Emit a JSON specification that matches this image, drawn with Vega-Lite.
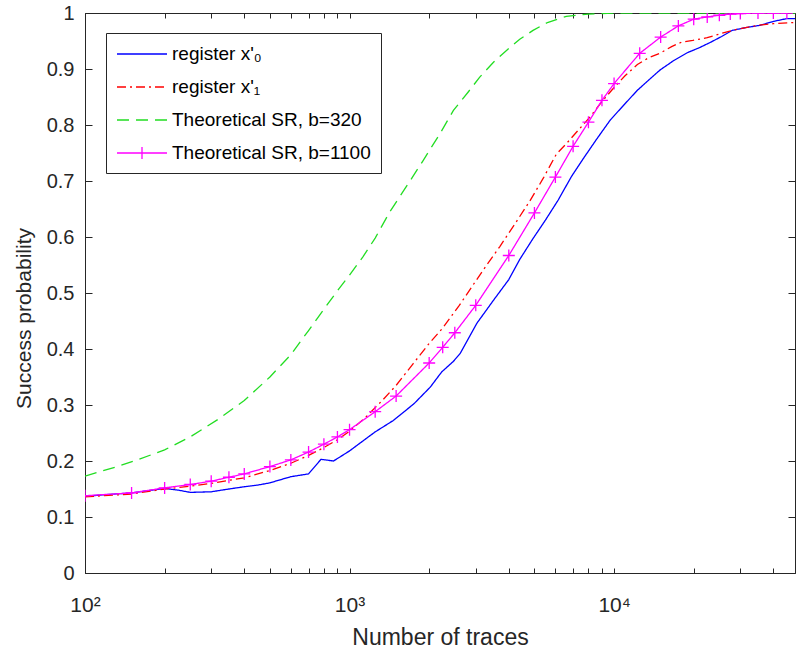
{
  "$schema": "https://vega.github.io/schema/vega-lite/v6.json",
  "width": 710,
  "height": 560,
  "autosize": {"type": "none"},
  "padding": {"left": 85, "top": 13, "right": 1, "bottom": 81},
  "background": "white",
  "config": {"view": {"stroke": "#262626", "strokeWidth": 1}, "font": "Liberation Sans"},
  "datasets": {
    "curves": [
      {"series": "register x'₀", "n": 100, "p": 0.137},
      {"series": "register x'₀", "n": 120, "p": 0.140},
      {"series": "register x'₀", "n": 150, "p": 0.143},
      {"series": "register x'₀", "n": 200, "p": 0.151},
      {"series": "register x'₀", "n": 225, "p": 0.148},
      {"series": "register x'₀", "n": 250, "p": 0.144},
      {"series": "register x'₀", "n": 300, "p": 0.145},
      {"series": "register x'₀", "n": 350, "p": 0.150},
      {"series": "register x'₀", "n": 400, "p": 0.154},
      {"series": "register x'₀", "n": 450, "p": 0.157},
      {"series": "register x'₀", "n": 500, "p": 0.161},
      {"series": "register x'₀", "n": 600, "p": 0.172},
      {"series": "register x'₀", "n": 700, "p": 0.177},
      {"series": "register x'₀", "n": 780, "p": 0.203},
      {"series": "register x'₀", "n": 870, "p": 0.200},
      {"series": "register x'₀", "n": 1000, "p": 0.218},
      {"series": "register x'₀", "n": 1140, "p": 0.238},
      {"series": "register x'₀", "n": 1250, "p": 0.252},
      {"series": "register x'₀", "n": 1460, "p": 0.272},
      {"series": "register x'₀", "n": 1750, "p": 0.302},
      {"series": "register x'₀", "n": 2020, "p": 0.332},
      {"series": "register x'₀", "n": 2230, "p": 0.359},
      {"series": "register x'₀", "n": 2470, "p": 0.378},
      {"series": "register x'₀", "n": 2620, "p": 0.392},
      {"series": "register x'₀", "n": 3030, "p": 0.446},
      {"series": "register x'₀", "n": 3500, "p": 0.487},
      {"series": "register x'₀", "n": 4000, "p": 0.524},
      {"series": "register x'₀", "n": 4400, "p": 0.560},
      {"series": "register x'₀", "n": 4935, "p": 0.597},
      {"series": "register x'₀", "n": 5500, "p": 0.630},
      {"series": "register x'₀", "n": 6150, "p": 0.666},
      {"series": "register x'₀", "n": 6900, "p": 0.708},
      {"series": "register x'₀", "n": 7650, "p": 0.740},
      {"series": "register x'₀", "n": 8600, "p": 0.775},
      {"series": "register x'₀", "n": 9680, "p": 0.809},
      {"series": "register x'₀", "n": 11000, "p": 0.838},
      {"series": "register x'₀", "n": 12250, "p": 0.862},
      {"series": "register x'₀", "n": 13500, "p": 0.880},
      {"series": "register x'₀", "n": 14900, "p": 0.898},
      {"series": "register x'₀", "n": 16800, "p": 0.915},
      {"series": "register x'₀", "n": 18900, "p": 0.929},
      {"series": "register x'₀", "n": 21000, "p": 0.938},
      {"series": "register x'₀", "n": 23000, "p": 0.947},
      {"series": "register x'₀", "n": 25500, "p": 0.958},
      {"series": "register x'₀", "n": 28000, "p": 0.969},
      {"series": "register x'₀", "n": 31500, "p": 0.974},
      {"series": "register x'₀", "n": 35600, "p": 0.978},
      {"series": "register x'₀", "n": 40000, "p": 0.985},
      {"series": "register x'₀", "n": 45000, "p": 0.990},
      {"series": "register x'₀", "n": 48300, "p": 0.990},

      {"series": "register x'₁", "n": 100, "p": 0.136},
      {"series": "register x'₁", "n": 150, "p": 0.141},
      {"series": "register x'₁", "n": 200, "p": 0.150},
      {"series": "register x'₁", "n": 250, "p": 0.155},
      {"series": "register x'₁", "n": 300, "p": 0.160},
      {"series": "register x'₁", "n": 400, "p": 0.170},
      {"series": "register x'₁", "n": 500, "p": 0.183},
      {"series": "register x'₁", "n": 600, "p": 0.196},
      {"series": "register x'₁", "n": 700, "p": 0.210},
      {"series": "register x'₁", "n": 800, "p": 0.224},
      {"series": "register x'₁", "n": 900, "p": 0.238},
      {"series": "register x'₁", "n": 1000, "p": 0.253},
      {"series": "register x'₁", "n": 1150, "p": 0.278},
      {"series": "register x'₁", "n": 1336, "p": 0.309},
      {"series": "register x'₁", "n": 1500, "p": 0.335},
      {"series": "register x'₁", "n": 1735, "p": 0.373},
      {"series": "register x'₁", "n": 2000, "p": 0.410},
      {"series": "register x'₁", "n": 2255, "p": 0.438},
      {"series": "register x'₁", "n": 2600, "p": 0.478},
      {"series": "register x'₁", "n": 2937, "p": 0.515},
      {"series": "register x'₁", "n": 3300, "p": 0.550},
      {"series": "register x'₁", "n": 3700, "p": 0.583},
      {"series": "register x'₁", "n": 4200, "p": 0.622},
      {"series": "register x'₁", "n": 4800, "p": 0.664},
      {"series": "register x'₁", "n": 5400, "p": 0.705},
      {"series": "register x'₁", "n": 6050, "p": 0.748},
      {"series": "register x'₁", "n": 6640, "p": 0.768},
      {"series": "register x'₁", "n": 7300, "p": 0.790},
      {"series": "register x'₁", "n": 8100, "p": 0.814},
      {"series": "register x'₁", "n": 9000, "p": 0.842},
      {"series": "register x'₁", "n": 10000, "p": 0.867},
      {"series": "register x'₁", "n": 11000, "p": 0.888},
      {"series": "register x'₁", "n": 12250, "p": 0.908},
      {"series": "register x'₁", "n": 13500, "p": 0.920},
      {"series": "register x'₁", "n": 14900, "p": 0.928},
      {"series": "register x'₁", "n": 16500, "p": 0.940},
      {"series": "register x'₁", "n": 18000, "p": 0.948},
      {"series": "register x'₁", "n": 19850, "p": 0.951},
      {"series": "register x'₁", "n": 22500, "p": 0.956},
      {"series": "register x'₁", "n": 25200, "p": 0.963},
      {"series": "register x'₁", "n": 28000, "p": 0.969},
      {"series": "register x'₁", "n": 30000, "p": 0.972},
      {"series": "register x'₁", "n": 35000, "p": 0.978},
      {"series": "register x'₁", "n": 40000, "p": 0.981},
      {"series": "register x'₁", "n": 48300, "p": 0.983},

      {"series": "Theoretical SR, b=320", "n": 100, "p": 0.173},
      {"series": "Theoretical SR, b=320", "n": 130, "p": 0.189},
      {"series": "Theoretical SR, b=320", "n": 160, "p": 0.203},
      {"series": "Theoretical SR, b=320", "n": 200, "p": 0.220},
      {"series": "Theoretical SR, b=320", "n": 250, "p": 0.243},
      {"series": "Theoretical SR, b=320", "n": 320, "p": 0.275},
      {"series": "Theoretical SR, b=320", "n": 400, "p": 0.308},
      {"series": "Theoretical SR, b=320", "n": 500, "p": 0.350},
      {"series": "Theoretical SR, b=320", "n": 600, "p": 0.390},
      {"series": "Theoretical SR, b=320", "n": 700, "p": 0.433},
      {"series": "Theoretical SR, b=320", "n": 800, "p": 0.471},
      {"series": "Theoretical SR, b=320", "n": 900, "p": 0.504},
      {"series": "Theoretical SR, b=320", "n": 1000, "p": 0.532},
      {"series": "Theoretical SR, b=320", "n": 1125, "p": 0.565},
      {"series": "Theoretical SR, b=320", "n": 1250, "p": 0.598},
      {"series": "Theoretical SR, b=320", "n": 1420, "p": 0.645},
      {"series": "Theoretical SR, b=320", "n": 1650, "p": 0.692},
      {"series": "Theoretical SR, b=320", "n": 1900, "p": 0.737},
      {"series": "Theoretical SR, b=320", "n": 2200, "p": 0.785},
      {"series": "Theoretical SR, b=320", "n": 2470, "p": 0.826},
      {"series": "Theoretical SR, b=320", "n": 2800, "p": 0.858},
      {"series": "Theoretical SR, b=320", "n": 3100, "p": 0.885},
      {"series": "Theoretical SR, b=320", "n": 3500, "p": 0.912},
      {"series": "Theoretical SR, b=320", "n": 3940, "p": 0.934},
      {"series": "Theoretical SR, b=320", "n": 4400, "p": 0.953},
      {"series": "Theoretical SR, b=320", "n": 4940, "p": 0.969},
      {"series": "Theoretical SR, b=320", "n": 5600, "p": 0.983},
      {"series": "Theoretical SR, b=320", "n": 6600, "p": 0.994},
      {"series": "Theoretical SR, b=320", "n": 8000, "p": 0.998},
      {"series": "Theoretical SR, b=320", "n": 10000, "p": 1.0},
      {"series": "Theoretical SR, b=320", "n": 20000, "p": 1.0},
      {"series": "Theoretical SR, b=320", "n": 48300, "p": 1.0},

      {"series": "Theoretical SR, b=1100", "n": 100, "p": 0.138},
      {"series": "Theoretical SR, b=1100", "n": 150, "p": 0.143},
      {"series": "Theoretical SR, b=1100", "n": 200, "p": 0.152},
      {"series": "Theoretical SR, b=1100", "n": 250, "p": 0.158},
      {"series": "Theoretical SR, b=1100", "n": 300, "p": 0.164},
      {"series": "Theoretical SR, b=1100", "n": 350, "p": 0.171},
      {"series": "Theoretical SR, b=1100", "n": 400, "p": 0.177},
      {"series": "Theoretical SR, b=1100", "n": 500, "p": 0.190},
      {"series": "Theoretical SR, b=1100", "n": 600, "p": 0.202},
      {"series": "Theoretical SR, b=1100", "n": 700, "p": 0.216},
      {"series": "Theoretical SR, b=1100", "n": 800, "p": 0.230},
      {"series": "Theoretical SR, b=1100", "n": 900, "p": 0.243},
      {"series": "Theoretical SR, b=1100", "n": 1000, "p": 0.256},
      {"series": "Theoretical SR, b=1100", "n": 1250, "p": 0.288},
      {"series": "Theoretical SR, b=1100", "n": 1500, "p": 0.316},
      {"series": "Theoretical SR, b=1100", "n": 2000, "p": 0.375},
      {"series": "Theoretical SR, b=1100", "n": 2250, "p": 0.403},
      {"series": "Theoretical SR, b=1100", "n": 2500, "p": 0.429},
      {"series": "Theoretical SR, b=1100", "n": 3000, "p": 0.478},
      {"series": "Theoretical SR, b=1100", "n": 4000, "p": 0.567},
      {"series": "Theoretical SR, b=1100", "n": 5000, "p": 0.643},
      {"series": "Theoretical SR, b=1100", "n": 6000, "p": 0.707},
      {"series": "Theoretical SR, b=1100", "n": 7000, "p": 0.762},
      {"series": "Theoretical SR, b=1100", "n": 8000, "p": 0.805},
      {"series": "Theoretical SR, b=1100", "n": 9000, "p": 0.844},
      {"series": "Theoretical SR, b=1100", "n": 10000, "p": 0.874},
      {"series": "Theoretical SR, b=1100", "n": 12500, "p": 0.928},
      {"series": "Theoretical SR, b=1100", "n": 15000, "p": 0.957},
      {"series": "Theoretical SR, b=1100", "n": 17500, "p": 0.977},
      {"series": "Theoretical SR, b=1100", "n": 20000, "p": 0.989},
      {"series": "Theoretical SR, b=1100", "n": 22500, "p": 0.993},
      {"series": "Theoretical SR, b=1100", "n": 25000, "p": 0.996},
      {"series": "Theoretical SR, b=1100", "n": 27500, "p": 0.998},
      {"series": "Theoretical SR, b=1100", "n": 30000, "p": 0.999},
      {"series": "Theoretical SR, b=1100", "n": 35000, "p": 1.0},
      {"series": "Theoretical SR, b=1100", "n": 40000, "p": 1.0},
      {"series": "Theoretical SR, b=1100", "n": 45000, "p": 1.0}
    ]
  },
  "data": {"name": "curves"},
  "layer": [
    {
      "mark": {"type": "line", "strokeWidth": 1.3, "clip": true},
      "encoding": {
        "x": {
          "field": "n", "type": "quantitative",
          "scale": {"type": "log", "domain": [100, 48300], "nice": false},
          "axis": {
            "orient": "bottom",
            "values": [100,200,300,400,500,600,700,800,900,1000,2000,3000,4000,5000,6000,7000,8000,9000,10000,20000,30000,40000],
            "labelExpr": "datum.value == 100 ? '10²' : datum.value == 1000 ? '10³' : datum.value == 10000 ? '10⁴' : ''",
            "labelFlush": false, "labelOverlap": false,
            "grid": false, "tickSize": -5, "labelPadding": 26, "labelFontSize": 21, "labelColor": "#262626",
            "domainColor": "#262626", "tickColor": "#262626",
            "title": "Number of traces", "titleFontSize": 23, "titleFontWeight": "normal", "titleColor": "#262626",
            "titleY": 64, "titleBaseline": "middle"
          }
        },
        "y": {
          "field": "p", "type": "quantitative",
          "scale": {"domain": [0, 1], "nice": false},
          "axis": {
            "orient": "left",
            "values": [0,0.1,0.2,0.3,0.4,0.5,0.6,0.7,0.8,0.9,1],
            "format": ".1~f", "labelFlush": false,
            "grid": false, "tickSize": -7, "labelPadding": 18, "labelFontSize": 20, "labelColor": "#262626",
            "domainColor": "#262626", "tickColor": "#262626",
            "title": "Success probability", "titleFontSize": 21, "titleFontWeight": "normal", "titleColor": "#262626",
            "titleX": -61, "titleY": 305, "titleBaseline": "middle"
          }
        },
        "color": {
          "field": "series", "type": "nominal",
          "scale": {
            "domain": ["register x'₀", "register x'₁", "Theoretical SR, b=320", "Theoretical SR, b=1100"],
            "range": ["#0000ff", "#ff0000", "#22dd22", "#ff00ff"]
          },
          "legend": {
            "title": null, "orient": "none", "legendX": 21, "legendY": 20,
            "symbolSize": 400, "symbolStrokeWidth": 1.3,
            "labelFontSize": 19, "labelColor": "#000000", "labelOffset": 34, "labelLimit": 400,
            "rowPadding": 12, "padding": 10, "fillColor": "white", "strokeColor": "#262626",
            "encode": {"symbols": {"update": {"shape": {"signal": "datum.value === 'Theoretical SR, b=1100' ? 'M-1,0L4,0M1.5,-0.6L1.5,0.6' : 'M-1,0L4,0'"}}}}
          }
        },
        "strokeDash": {
          "field": "series", "type": "nominal",
          "scale": {
            "domain": ["register x'₀", "register x'₁", "Theoretical SR, b=320", "Theoretical SR, b=1100"],
            "range": [[1, 0], [9, 4, 2, 4], [12, 7], [1, 0]]
          },
          "legend": {
            "title": null, "orient": "none", "legendX": 21, "legendY": 20,
            "symbolSize": 400, "symbolStrokeWidth": 1.3,
            "labelFontSize": 19, "labelColor": "#000000", "labelOffset": 34, "labelLimit": 400,
            "rowPadding": 12, "padding": 10, "fillColor": "white", "strokeColor": "#262626",
            "encode": {"symbols": {"update": {"shape": {"signal": "datum.value === 'Theoretical SR, b=1100' ? 'M-1,0L4,0M1.5,-0.6L1.5,0.6' : 'M-1,0L4,0'"}}}}
          }
        }
      }
    },
    {
      "transform": [{"filter": "datum.series == 'Theoretical SR, b=1100'"}],
      "mark": {"type": "point", "shape": "M-1,0L1,0M0,-1L0,1", "size": 144, "filled": false, "strokeWidth": 1.3, "color": "#ff00ff", "opacity": 1, "clip": true},
      "encoding": {
        "x": {
          "field": "n", "type": "quantitative",
          "axis": {
            "orient": "top",
            "values": [100,200,300,400,500,600,700,800,900,1000,2000,3000,4000,5000,6000,7000,8000,9000,10000,20000,30000,40000],
            "labels": false, "title": null, "grid": false, "tickSize": -5, "domain": false, "tickColor": "#262626"
          }
        },
        "y": {
          "field": "p", "type": "quantitative",
          "axis": {
            "orient": "right",
            "values": [0,0.1,0.2,0.3,0.4,0.5,0.6,0.7,0.8,0.9,1],
            "labels": false, "title": null, "grid": false, "tickSize": -7, "domain": false, "tickColor": "#262626"
          }
        }
      }
    }
  ],
  "resolve": {"axis": {"x": "independent", "y": "independent"}}
}
